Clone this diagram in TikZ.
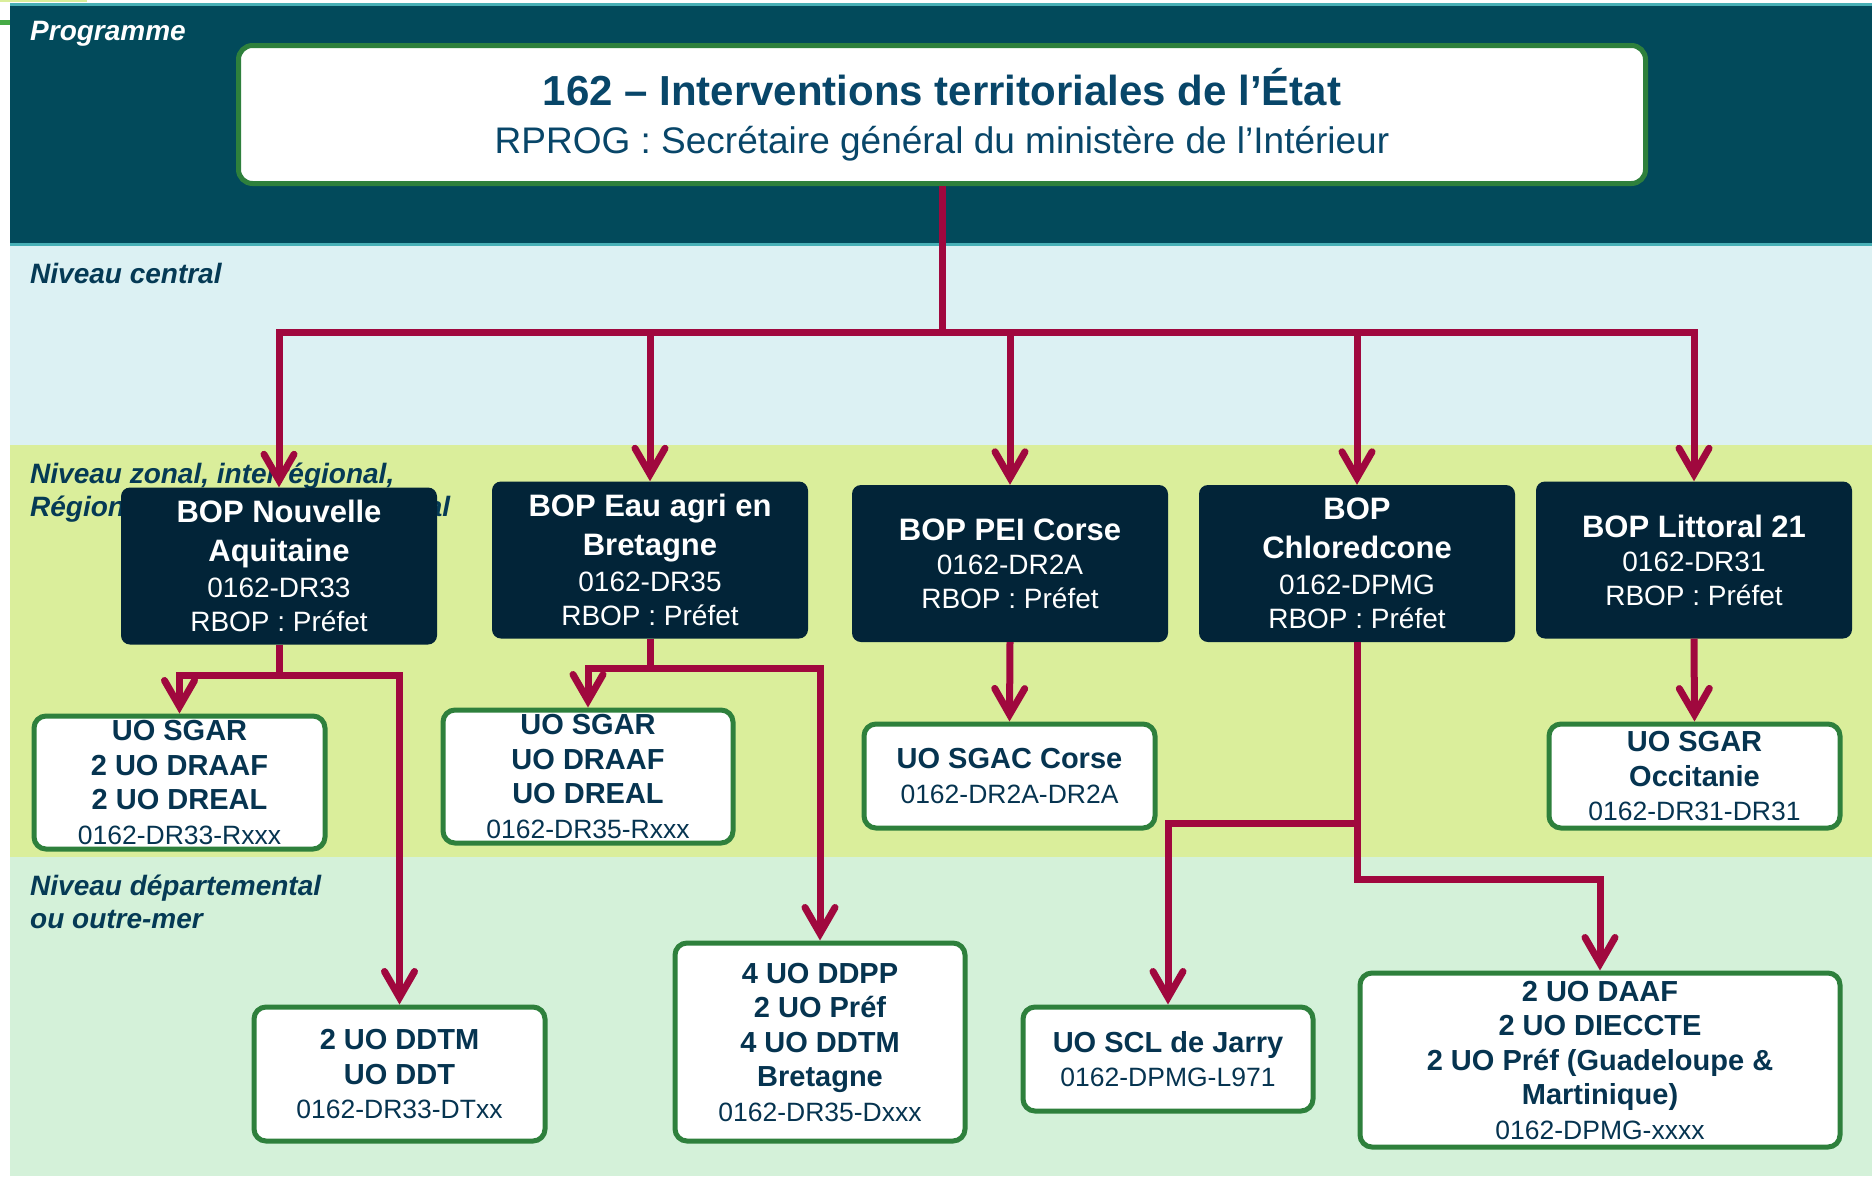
\documentclass[tikz,border=0pt]{standalone}
\usepackage{fontspec}
\setmainfont{Liberation Sans}
\usetikzlibrary{arrows.meta}
\definecolor{darkband}{RGB}{2,74,91}
\definecolor{tealline}{RGB}{72,176,182}
\definecolor{lightblue}{RGB}{220,241,243}
\definecolor{yelgreen}{RGB}{218,238,155}
\definecolor{lightgreen}{RGB}{212,241,217}
\definecolor{markgreen}{RGB}{70,170,70}
\definecolor{bopdark}{RGB}{2,36,56}
\definecolor{boxgreen}{RGB}{46,128,60}
\definecolor{uotext}{RGB}{6,52,80}
\definecolor{titleblue}{RGB}{8,70,105}
\definecolor{labeltext}{RGB}{5,58,85}
\definecolor{crimson}{RGB}{160,8,62}
\newcommand\bopB{\fontsize{31}{34}\selectfont\bfseries}
\newcommand\bopR{\fontsize{28}{34}\selectfont\mdseries}
\newcommand\uoB{\fontsize{29}{34.5}\selectfont\bfseries}
\newcommand\uoR{\fontsize{26.5}{34.5}\selectfont\mdseries}
\newcommand\lblfont{\fontsize{28}{33}\selectfont\bfseries\itshape}
\begin{document}
\begin{tikzpicture}[x=1pt,y=-1pt,
  bop/.style={rectangle, rounded corners=9pt, fill=bopdark, text=white, align=center,
    inner sep=0pt, minimum width=316pt, minimum height=157pt, node font=\bopB},
  uo/.style={rectangle, rounded corners=12pt, draw=boxgreen, line width=5pt, fill=white,
    text=uotext, align=center, inner sep=0pt, node font=\uoB},
  lbl/.style={anchor=west, align=left, inner sep=0pt, text=labeltext, node font=\lblfont},
  conn/.style={draw=crimson, line width=7pt},
  arr/.style={conn, -{Straight Barb[length=26pt,width=30pt,line cap=round]}}]
\useasboundingbox (0,0) rectangle (1872,1176);
% background bands
\fill[white] (0,0) rectangle (1872,1176);
\fill[yelgreen] (0,0) rectangle (87,1.5);
\fill[markgreen] (0,20) rectangle (10,25);
\fill[tealline] (10,3) rectangle (1872,6);
\fill[darkband] (10,6) rectangle (1872,243);
\fill[tealline] (10,243) rectangle (1872,246);
\fill[lightblue] (10,246) rectangle (1872,445);
\fill[yelgreen] (10,445) rectangle (1872,857);
\fill[lightgreen] (10,857) rectangle (1872,1176);
% band labels
\node[lbl, text=white] (lprog) at (30,34) {Programme};
\node[lbl] (lcentral) at (30,273) {Niveau central};
\node[lbl] (lzonal) at (30,493) {Niveau zonal, interrégional,\\Régional ou interdépartemental};
\node[lbl] (ldep) at (30,902) {Niveau départemental\\ou outre-mer};
% top box
\node[rectangle, rounded corners=14pt, draw=boxgreen, line width=5pt, fill=white,
  text=titleblue, align=center, inner sep=0pt, minimum width=1407pt, minimum height=138pt,
  node font=\fontsize{37}{48}\selectfont]
  (top) at (942,114.5)
  {{\fontsize{42}{48}\selectfont\bfseries 162 – Interventions territoriales de l’État}\\
   RPROG : Secrétaire général du ministère de l’Intérieur};
% BOP boxes
\node[bop] (bop1) at (279,566) {BOP Nouvelle\\[5pt]Aquitaine\\[2pt]{\bopR 0162-DR33}\\{\bopR RBOP : Préfet}};
\node[bop] (bop2) at (650,560) {BOP Eau agri en\\[5pt]Bretagne\\[2pt]{\bopR 0162-DR35}\\{\bopR RBOP : Préfet}};
\node[bop] (bop3) at (1010,563.5) {BOP PEI Corse\\{\bopR 0162-DR2A}\\{\bopR RBOP : Préfet}};
\node[bop] (bop4) at (1357,563.5) {BOP\\[5pt]Chloredcone\\[2pt]{\bopR 0162-DPMG}\\{\bopR RBOP : Préfet}};
\node[bop] (bop5) at (1694,560) {BOP Littoral 21\\{\bopR 0162-DR31}\\{\bopR RBOP : Préfet}};
% UO boxes
\node[uo, minimum width=291pt, minimum height=133pt] (uoA) at (179.5,782.5)
  {UO SGAR\\2 UO DRAAF\\2 UO DREAL\\{\uoR 0162-DR33-Rxxx}};
\node[uo, minimum width=290pt, minimum height=133pt] (uoB) at (588,776.5)
  {UO SGAR\\UO DRAAF\\UO DREAL\\{\uoR 0162-DR35-Rxxx}};
\node[uo, minimum width=291pt, minimum height=104pt] (uoC) at (1009.5,776)
  {UO SGAC Corse\\{\uoR 0162-DR2A-DR2A}};
\node[uo, minimum width=291pt, minimum height=104pt] (uoD) at (1694.5,776)
  {UO SGAR\\Occitanie\\{\uoR 0162-DR31-DR31}};
\node[uo, minimum width=291pt, minimum height=134pt] (uoE) at (399.5,1074)
  {2 UO DDTM\\UO DDT\\{\uoR 0162-DR33-DTxx}};
\node[uo, minimum width=290pt, minimum height=198pt] (uoF) at (820,1042)
  {4 UO DDPP\\2 UO Préf\\4 UO DDTM\\Bretagne\\{\uoR 0162-DR35-Dxxx}};
\node[uo, minimum width=290pt, minimum height=104pt] (uoG) at (1168,1059)
  {UO SCL de Jarry\\{\uoR 0162-DPMG-L971}};
\node[uo, minimum width=480pt, minimum height=174pt] (uoH) at (1600,1060)
  {2 UO DAAF\\2 UO DIECCTE\\2 UO Préf (Guadeloupe \&\\Martinique)\\{\uoR 0162-DPMG-xxxx}};
% connectors
\coordinate (bus) at (942,332);
\draw[arr] (top.south) -- (bus) -| (bop1.north);
\draw[arr] (top.south) -- (bus) -| (bop2.north);
\draw[arr] (top.south) -- (bus) -| (bop3.north);
\draw[arr] (top.south) -- (bus) -| (bop4.north);
\draw[arr] (top.south) -- (bus) -| (bop5.north);
\coordinate (j1) at (279,675);
\draw[arr] (bop1.south) -- (j1) -| (uoA.north);
\draw[arr] (bop1.south) -- (j1) -| (uoE.north);
\coordinate (j2) at (650,668);
\draw[arr] (bop2.south) -- (j2) -| (uoB.north);
\draw[arr] (bop2.south) -- (j2) -| (uoF.north);
\draw[arr] (bop3.south) -- (uoC.north);
\coordinate (j4a) at (1357,823);
\coordinate (j4b) at (1357,879);
\draw[arr] (bop4.south) -- (j4a) -| (uoG.north);
\draw[arr] (bop4.south) -- (j4b) -| (uoH.north);
\draw[arr] (bop5.south) -- (uoD.north);
\end{tikzpicture}
\end{document}
